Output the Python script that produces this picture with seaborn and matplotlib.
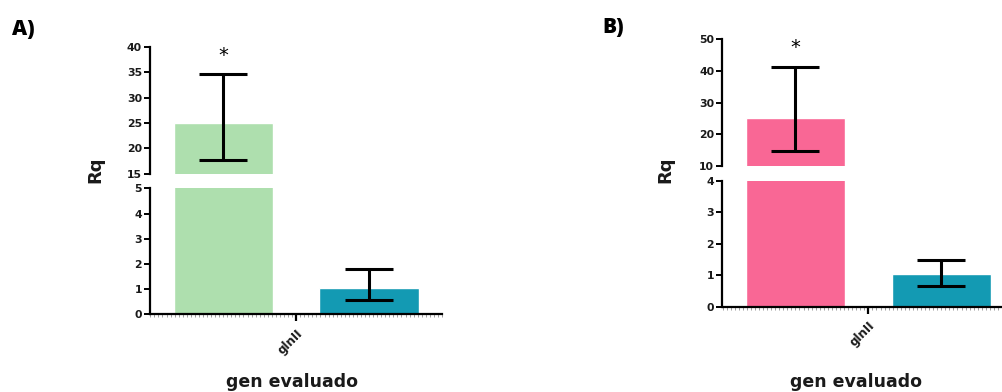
import numpy as np
import pandas as pd
import matplotlib
matplotlib.use("Agg")
import matplotlib.pyplot as plt
from matplotlib.ticker import MultipleLocator, FixedLocator
import seaborn as sns

# ---- data ----
genes = ["glnII"]
grupos = ["tratamiento", "control"]

rq_a = [25.0, 1.05]
err_lo_a = [17.6, 0.55]
err_hi_a = [34.6, 1.78]

rq_b = [25.0, 1.03]
err_lo_b = [14.7, 0.65]
err_hi_b = [41.4, 1.50]

colores_a = ["#AEDFAE", "#139AB3"]
colores_b = ["#F96795", "#139AB3"]

ticks_a_sup = [15, 20, 25, 30, 35, 40]
ticks_a_inf = [0, 1, 2, 3, 4, 5]
ticks_b_sup = [10, 20, 30, 40, 50]
ticks_b_inf = [0, 1, 2, 3, 4]

# ---- figure ----
W, H = 1003, 392
sns.set_theme(style="white")
plt.rcParams["font.family"] = ["DejaVu Sans"]
fig = plt.figure(figsize=(W / 100, H / 100), dpi=100)


def caja(x0, ytop, ancho, ybot):
    return [x0 / W, 1 - ybot / H, ancho / W, (ybot - ytop) / H]


def dibujar_barras(ax, valores, lo, hi, paleta):
    df = pd.DataFrame({"gen": genes * len(grupos), "grupo": grupos, "Rq": valores})
    sns.barplot(data=df, x="gen", y="Rq", hue="grupo", palette=paleta,
                width=1.0, gap=0.32, errorbar=None, legend=False,
                saturation=1, ax=ax)
    barras = sorted(ax.patches, key=lambda p: p.get_x())
    centros = np.array([p.get_x() + p.get_width() / 2 for p in barras])
    v = np.array(valores)
    yerr = [v - np.array(lo), np.array(hi) - v]
    ax.errorbar(centros, v, yerr=yerr, fmt="none", ecolor="black",
                elinewidth=2.2, capsize=17, capthick=2.2, zorder=4)
    ax.set_xlim(-0.5, 0.5)
    return centros


def estilo_y(ax, ticks):
    ax.set_ylim(ticks[0], ticks[-1])
    ax.yaxis.set_major_locator(FixedLocator(ticks))
    ax.set_yticklabels([str(t) for t in ticks])
    ax.tick_params(axis="y", which="major", left=True, length=4.5, width=1.4,
                   pad=1.5, labelsize=7.8, color="black", labelcolor="#1a1a1a")
    for lab in ax.get_yticklabels():
        lab.set_fontweight("bold")
    ax.spines["left"].set_linewidth(1.6)
    ax.spines["left"].set_color("black")
    for s in ("top", "right"):
        ax.spines[s].set_visible(False)
    ax.set_ylabel("")
    ax.set_xlabel("")


def panel(x0, sup, inf, valores, lo, hi, paleta, t_sup, t_inf,
          letra, letra_xy, rq_xy, xlabel_xy):
    ax_s = fig.add_axes(caja(x0, sup[0], 291.7, sup[1]))
    ax_i = fig.add_axes(caja(x0, inf[0], 291.7, inf[1]))
    for ax in (ax_s, ax_i):
        ax.set_facecolor("none")
        centros = dibujar_barras(ax, valores, lo, hi, paleta)

    estilo_y(ax_s, t_sup)
    ax_s.spines["bottom"].set_visible(False)
    ax_s.set_xticks([])

    estilo_y(ax_i, t_inf)
    ax_i.spines["bottom"].set_linewidth(1.6)
    ax_i.spines["bottom"].set_color("black")
    ax_i.set_xticks([0])
    ax_i.set_xticklabels(genes, rotation=45, ha="right", va="top",
                         rotation_mode="anchor", fontsize=8.5, fontweight="bold",
                         color="#1a1a1a")
    ax_i.xaxis.set_minor_locator(MultipleLocator(1 / 72))
    ax_i.tick_params(axis="x", which="major", bottom=True, length=5, width=1.6,
                     pad=4, color="black")
    ax_i.tick_params(axis="x", which="minor", bottom=True, length=1.8, width=0.5,
                     color="#777777")

    ax_s.annotate("*", xy=(centros[0], 1.0), xycoords=("data", "axes fraction"),
                  xytext=(0, -10), textcoords="offset points",
                  ha="center", va="baseline", fontsize=14, color="black")

    fig.text(letra_xy[0] / W, 1 - letra_xy[1] / H, letra, fontsize=15,
             fontweight="heavy", family=["Open Sans", "DejaVu Sans"],
             ha="left", va="baseline", color="black")
    fig.text(rq_xy[0] / W, 1 - rq_xy[1] / H, "Rq", rotation=90, fontsize=13,
             fontweight="bold", ha="center", va="center", color="#1a1a1a")
    fig.text(xlabel_xy[0] / W, 1 - xlabel_xy[1] / H, "gen evaluado",
             fontsize=12.5, fontweight="bold", ha="center", va="center",
             color="#1a1a1a")


panel(150.3, (46.7, 173.7), (188.3, 314.3), rq_a, err_lo_a, err_hi_a,
      colores_a, ticks_a_sup, ticks_a_inf, "A)", (12, 35), (95, 170), (292, 382))
panel(722.5, (39.3, 166.0), (181.0, 306.7), rq_b, err_lo_b, err_hi_b,
      colores_b, ticks_b_sup, ticks_b_inf, "B)", (602, 33), (665, 170), (856, 382))

fig.savefig("out.png", dpi=100)
